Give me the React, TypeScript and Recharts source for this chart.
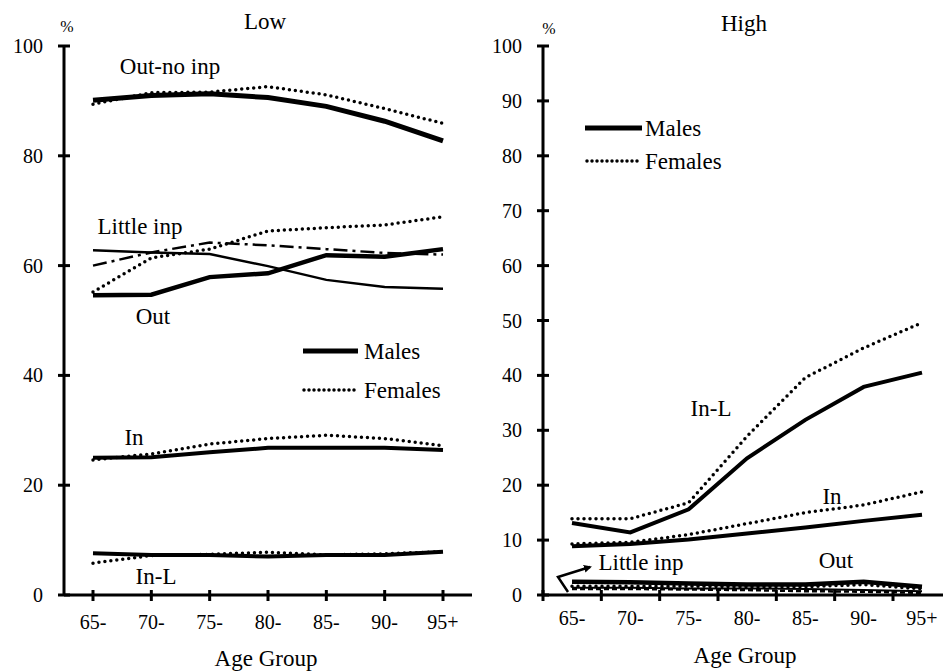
import React from "react"
import { LineChart, Line, XAxis, YAxis } from "recharts"

const FONT = "Liberation Serif, Tinos, DejaVu Serif, Times New Roman, Times, serif"

const ageGroups = ["65-", "70-", "75-", "80-", "85-", "90-", "95+"]

// Low panel
const lowOutNoInpMales = [90.1, 91.0, 91.3, 90.6, 89.0, 86.3, 82.7]
const lowOutNoInpFemales = [89.4, 91.5, 91.6, 92.6, 91.1, 88.6, 85.9]
const lowLittleInpMales = [62.8, 62.4, 62.1, 59.9, 57.4, 56.1, 55.8]
const lowLittleInpFemales = [60.0, 62.4, 64.2, 63.7, 63.0, 62.3, 62.0]
const lowOutMales = [54.6, 54.7, 57.9, 58.6, 61.9, 61.6, 63.0]
const lowOutFemales = [55.2, 61.4, 63.0, 66.3, 66.9, 67.4, 68.9]
const lowInMales = [25.0, 25.1, 26.0, 26.8, 26.8, 26.8, 26.4]
const lowInFemales = [24.6, 25.7, 27.5, 28.5, 29.1, 28.5, 27.2]
const lowInLMales = [7.6, 7.3, 7.3, 7.0, 7.3, 7.3, 7.9]
const lowInLFemales = [5.8, 7.2, 7.4, 7.8, 7.3, 7.5, 7.9]

// High panel
const highInLMales = [13.1, 11.4, 15.6, 24.9, 31.9, 37.9, 40.5]
const highInLFemales = [13.9, 13.9, 16.8, 28.9, 39.6, 45.0, 49.6]
const highInMales = [8.9, 9.3, 10.1, 11.2, 12.3, 13.5, 14.6]
const highInFemales = [9.3, 9.6, 11.0, 13.0, 15.0, 16.4, 18.8]
const highOutMales = [2.4, 2.3, 2.1, 1.9, 1.9, 2.4, 1.5]
const highOutFemales = [1.6, 1.6, 1.6, 1.5, 1.5, 1.9, 1.1]
const highLittleInpMales = [1.3, 1.3, 1.2, 1.2, 1.1, 0.9, 0.7]
const highLittleInpFemales = [1.1, 1.1, 1.0, 0.9, 0.7, 0.6, 0.4]

const lowTicks = [0, 20, 40, 60, 80, 100]
const highTicks = [0, 10, 20, 30, 40, 50, 60, 70, 80, 90, 100]

const lowData = ageGroups.map((age, i) => ({
  age,
  outNoInpM: lowOutNoInpMales[i],
  outNoInpF: lowOutNoInpFemales[i],
  littleM: lowLittleInpMales[i],
  littleF: lowLittleInpFemales[i],
  outM: lowOutMales[i],
  outF: lowOutFemales[i],
  inM: lowInMales[i],
  inF: lowInFemales[i],
  inLM: lowInLMales[i],
  inLF: lowInLFemales[i],
}))

const highData = ageGroups.map((age, i) => ({
  age,
  inLM: highInLMales[i],
  inLF: highInLFemales[i],
  inM: highInMales[i],
  inF: highInFemales[i],
  outM: highOutMales[i],
  outF: highOutFemales[i],
  littleM: highLittleInpMales[i],
  littleF: highLittleInpFemales[i],
}))

const DOTS = { strokeDasharray: "0 6", strokeLinecap: "round" as const }
const LEGEND_DOTS = { strokeDasharray: "0 5", strokeLinecap: "round" as const }

const YTick = (props: any) => {
  const { x, y, payload } = props
  return (
    <g>
      <line x1={x - 6} x2={x + 6} y1={y} y2={y} stroke="#000" strokeWidth={3} />
      <text x={x - 21} y={y} dy={7} textAnchor="end" fontSize={20} style={{ fontFamily: FONT }} fill="#000">
        {payload.value}
      </text>
    </g>
  )
}

const makeXTick = (tickShift: number, textDy: number) => (props: any) => {
  const { x, y, payload } = props
  return (
    <g>
      <line x1={x + tickShift} x2={x + tickShift} y1={y - 5} y2={y + 6} stroke="#000" strokeWidth={3} />
      <text x={x} y={y + textDy} textAnchor="middle" fontSize={20} style={{ fontFamily: FONT }} fill="#000">
        {payload.value}
      </text>
    </g>
  )
}

const LowXTick = makeXTick(0, 34)
const HighXTick = makeXTick(-29, 30)

const axisStroke = { stroke: "#000", strokeWidth: 3 }

function LowChart() {
  return (
    <LineChart width={480} height={671} data={lowData} margin={{ top: 46, right: 8, bottom: 16, left: 24 }}>
      <XAxis
        dataKey="age"
        height={60}
        padding={{ left: 29, right: 29 }}
        axisLine={axisStroke}
        tickLine={false}
        tickSize={0}
        tickMargin={0}
        interval={0}
        tick={<LowXTick />}
      />
      <XAxis xAxisId="top" orientation="top" dataKey="age" height={0} tick={false} tickLine={false} axisLine={axisStroke} />
      <YAxis
        width={40}
        domain={[0, 100]}
        ticks={lowTicks}
        interval={0}
        axisLine={axisStroke}
        tickLine={false}
        tickSize={0}
        tickMargin={0}
        tick={<YTick />}
      />
      <YAxis yAxisId="right" orientation="right" width={0} domain={[0, 100]} tick={false} tickLine={false} axisLine={axisStroke} />
      <Line dataKey="outNoInpM" stroke="#000" strokeWidth={5} dot={false} isAnimationActive={false} />
      <Line dataKey="outNoInpF" stroke="#000" strokeWidth={3.5} {...DOTS} dot={false} isAnimationActive={false} />
      <Line dataKey="littleM" stroke="#000" strokeWidth={2.5} dot={false} isAnimationActive={false} />
      <Line dataKey="littleF" stroke="#000" strokeWidth={2.5} strokeDasharray="14 5 3 5" dot={false} isAnimationActive={false} />
      <Line dataKey="outM" stroke="#000" strokeWidth={4.5} dot={false} isAnimationActive={false} />
      <Line dataKey="outF" stroke="#000" strokeWidth={3.5} {...DOTS} dot={false} isAnimationActive={false} />
      <Line dataKey="inM" stroke="#000" strokeWidth={4} dot={false} isAnimationActive={false} />
      <Line dataKey="inF" stroke="#000" strokeWidth={3.5} {...DOTS} dot={false} isAnimationActive={false} />
      <Line dataKey="inLM" stroke="#000" strokeWidth={4} dot={false} isAnimationActive={false} />
      <Line dataKey="inLF" stroke="#000" strokeWidth={3.5} {...DOTS} dot={false} isAnimationActive={false} />
    </LineChart>
  )
}

function HighChart() {
  return (
    <LineChart width={480} height={671} data={highData} margin={{ top: 46, right: 9, bottom: 16, left: 23 }}>
      <XAxis
        dataKey="age"
        height={60}
        padding={{ left: 29, right: 29 }}
        axisLine={axisStroke}
        tickLine={false}
        tickSize={0}
        tickMargin={0}
        interval={0}
        tick={<HighXTick />}
      />
      <XAxis xAxisId="top" orientation="top" dataKey="age" height={0} tick={false} tickLine={false} axisLine={axisStroke} />
      <YAxis
        width={40}
        domain={[0, 100]}
        ticks={highTicks}
        interval={0}
        axisLine={axisStroke}
        tickLine={false}
        tickSize={0}
        tickMargin={0}
        tick={<YTick />}
      />
      <Line dataKey="inLM" stroke="#000" strokeWidth={4} dot={false} isAnimationActive={false} />
      <Line dataKey="inLF" stroke="#000" strokeWidth={3.5} {...DOTS} dot={false} isAnimationActive={false} />
      <Line dataKey="inM" stroke="#000" strokeWidth={4} dot={false} isAnimationActive={false} />
      <Line dataKey="inF" stroke="#000" strokeWidth={3.5} {...DOTS} dot={false} isAnimationActive={false} />
      <Line dataKey="littleM" stroke="#000" strokeWidth={2} dot={false} isAnimationActive={false} />
      <Line dataKey="littleF" stroke="#000" strokeWidth={2.5} strokeDasharray="5 3" dot={false} isAnimationActive={false} />
      <Line dataKey="outM" stroke="#000" strokeWidth={4.5} dot={false} isAnimationActive={false} />
      <Line dataKey="outF" stroke="#000" strokeWidth={3.5} {...DOTS} dot={false} isAnimationActive={false} />
    </LineChart>
  )
}

const T = (p: { x: number; y: number; size?: number; anchor?: "start" | "middle"; children: React.ReactNode }) => (
  <text
    x={p.x}
    y={p.y}
    dy="0.35em"
    textAnchor={p.anchor ?? "middle"}
    fontSize={p.size ?? 23}
    style={{ fontFamily: FONT }}
    fill="#000"
  >
    {p.children}
  </text>
)

function Overlay() {
  return (
    <svg width={943} height={671} style={{ position: "absolute", left: 0, top: 0, pointerEvents: "none" }}>
      <defs>
        <marker id="arrowHead" markerWidth="8" markerHeight="8" refX="6" refY="4" orient="auto" markerUnits="userSpaceOnUse">
          <path d="M0,0 L8,4 L0,8 z" fill="#000" />
        </marker>
      </defs>
      {/* titles */}
      <T x={265} y={21}>Low</T>
      <T x={744} y={23}>High</T>
      <T x={67} y={26} size={16}>%</T>
      <T x={549} y={28} size={16}>%</T>
      <T x={266} y={658}>Age Group</T>
      <T x={745} y={655}>Age Group</T>

      {/* low panel labels */}
      <T x={170} y={66}>Out-no inp</T>
      <T x={140} y={226}>Little inp</T>
      <T x={153} y={316}>Out</T>
      <T x={134} y={437}>In</T>
      <T x={156} y={576}>In-L</T>

      {/* low legend */}
      <line x1={303} x2={358} y1={351} y2={351} stroke="#000" strokeWidth={5} />
      <T x={364} y={351} anchor="start">Males</T>
      <line x1={304} x2={357} y1={390} y2={390} stroke="#000" strokeWidth={3.5} {...LEGEND_DOTS} />
      <T x={364} y={390} anchor="start">Females</T>

      {/* high panel labels */}
      <T x={711} y={408}>In-L</T>
      <T x={832} y={496}>In</T>
      <T x={641} y={562}>Little inp</T>
      <T x={836} y={560}>Out</T>
      <polyline points="568,592 558,577 590,567" fill="none" stroke="#000" strokeWidth={2.5} markerEnd="url(#arrowHead)" />

      {/* high legend */}
      <line x1={585} x2={642} y1={128} y2={128} stroke="#000" strokeWidth={5} />
      <T x={645} y={128} anchor="start">Males</T>
      <line x1={587} x2={638} y1={161} y2={161} stroke="#000" strokeWidth={3.5} {...LEGEND_DOTS} />
      <T x={645} y={161} anchor="start">Females</T>
    </svg>
  )
}

export default function App() {
  return (
    <div style={{ position: "absolute", left: 0, top: 0, width: 943, height: 671, overflow: "hidden", background: "#fff" }}>
      <div style={{ position: "absolute", left: 0, top: 0 }}>
        <LowChart />
      </div>
      <div style={{ position: "absolute", left: 480, top: 0 }}>
        <HighChart />
      </div>
      <Overlay />
    </div>
  )
}
